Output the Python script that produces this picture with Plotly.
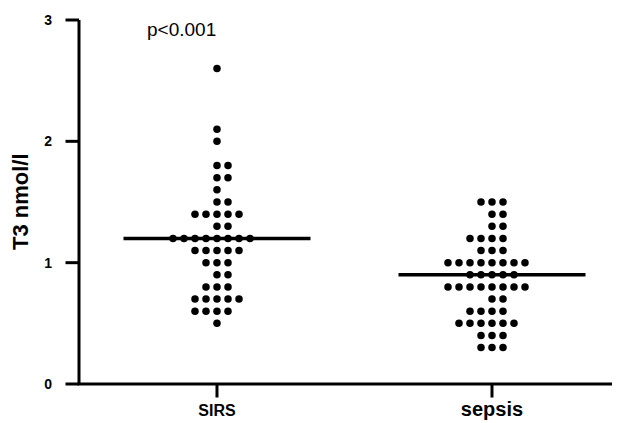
import plotly.graph_objects as go
from collections import Counter

groups = ["SIRS", "sepsis"]
sirs_values = [2.6, 2.1, 2.0, 1.8, 1.8, 1.7, 1.7, 1.6, 1.5, 1.5,
               1.4, 1.4, 1.4, 1.4, 1.4, 1.3, 1.3,
               1.2, 1.2, 1.2, 1.2, 1.2, 1.2, 1.2, 1.2,
               1.1, 1.1, 1.1, 1.1, 1.1, 1.0, 1.0, 1.0, 0.9, 0.9,
               0.8, 0.8, 0.8, 0.7, 0.7, 0.7, 0.7, 0.7,
               0.6, 0.6, 0.6, 0.6, 0.5]
sepsis_values = [1.5, 1.5, 1.5, 1.4, 1.4, 1.3, 1.3, 1.2, 1.2, 1.2, 1.2,
                 1.1, 1.1, 1.1,
                 1.0, 1.0, 1.0, 1.0, 1.0, 1.0, 1.0, 1.0,
                 0.9, 0.9, 0.9, 0.9, 0.9,
                 0.8, 0.8, 0.8, 0.8, 0.8, 0.8, 0.8, 0.8,
                 0.7, 0.7, 0.6, 0.6, 0.6, 0.6,
                 0.5, 0.5, 0.5, 0.5, 0.5, 0.5,
                 0.4, 0.4, 0.4, 0.3, 0.3, 0.3]
medians = [1.2, 0.9]
y_ticks = [0, 1, 2, 3]
p_text = "p<0.001"

SPACING = 0.04
HALF = 0.34
FONT = "Arial, Liberation Sans, sans-serif"

# figure geometry (page body adds 8px around the figure)
W, H = 612, 415
M = dict(l=57, r=0, t=10, b=25)
X_RANGE = [-0.5527, 1.4655]   # axis line sits at x=-0.5018 inside the plot area
Y_RANGE = [-0.1154, 3.0165]   # leaves room for the tick marks below y=0
X_AXIS_AT = -0.5018
TICKLEN = 12
px_x = (W - M["l"] - M["r"]) / (X_RANGE[1] - X_RANGE[0])
px_y = (H - M["t"] - M["b"]) / (Y_RANGE[1] - Y_RANGE[0])
AXIS_W = 3


def swarm(values, center):
    counts = Counter(values)
    xs, ys = [], []
    for v, n in counts.items():
        if n % 2 == 1:
            offs = [k - (n - 1) / 2 for k in range(n)]
        elif n == 2:
            offs = [0, 1]
        else:
            offs = [k - n / 2 for k in range(n)]
        for o in offs:
            xs.append(center + o * SPACING)
            ys.append(v)
    return xs, ys


fig = go.Figure()

# axis lines and tick marks drawn as line traces inside the plot area
ax_x, ax_y = [], []
ax_x += [X_AXIS_AT, X_AXIS_AT, None]
ax_y += [y_ticks[0], y_ticks[-1], None]
ax_x += [X_AXIS_AT - 1.5 / px_x, X_RANGE[1], None]
ax_y += [y_ticks[0], y_ticks[0], None]
for t in y_ticks:
    ax_x += [X_AXIS_AT - (TICKLEN + 1.5) / px_x, X_AXIS_AT, None]
    ax_y += [t, t, None]
for i in range(len(groups)):
    ax_x += [i, i, None]
    ax_y += [y_ticks[0], y_ticks[0] - (TICKLEN + 1.5) / px_y, None]
fig.add_trace(go.Scatter(x=ax_x, y=ax_y, mode="lines", hoverinfo="skip",
                         line=dict(color="black", width=AXIS_W), showlegend=False))

for i, vals in enumerate([sirs_values, sepsis_values]):
    xs, ys = swarm(vals, i)
    fig.add_trace(go.Scatter(x=xs, y=ys, mode="markers",
                             marker=dict(size=7.5, color="black", line=dict(width=0)),
                             showlegend=False, cliponaxis=False))
    fig.add_trace(go.Scatter(x=[i - HALF, i + HALF], y=[medians[i], medians[i]],
                             mode="lines", line=dict(color="black", width=3.5),
                             showlegend=False))

fig.add_annotation(x=-0.13, y=2.92, xref="x", yref="y", text=p_text, showarrow=False,
                   font=dict(family=FONT, size=19, color="black"))
fig.add_annotation(xref="paper", yref="y", xanchor="center", yanchor="middle",
                   x=0, y=1.5, xshift=-45, text="<b>T3 nmol/l</b>", textangle=-90,
                   showarrow=False, font=dict(size=22, family=FONT, color="black"))

fig.update_layout(
    width=W, height=H,
    margin=dict(**M, autoexpand=False),
    paper_bgcolor="white", plot_bgcolor="white",
    font=dict(family=FONT, color="black"),
    xaxis=dict(range=X_RANGE, showgrid=False, zeroline=False, showline=False,
               tickmode="array", tickvals=list(range(len(groups))),
               ticktext=["<b>SIRS</b>", "<b><span style='font-size:20px'>sepsis</span></b>"],
               ticks="", ticklabelstandoff=1,
               tickfont=dict(size=16, family=FONT, color="black")),
    yaxis=dict(range=Y_RANGE, showgrid=False, zeroline=False, showline=False,
               tickmode="array", tickvals=y_ticks,
               ticktext=["<b>%d</b>" % t for t in y_ticks],
               ticks="", ticklabelstandoff=12,
               tickfont=dict(size=14, family=FONT, color="black")),
)

fig.write_html("out.html")
